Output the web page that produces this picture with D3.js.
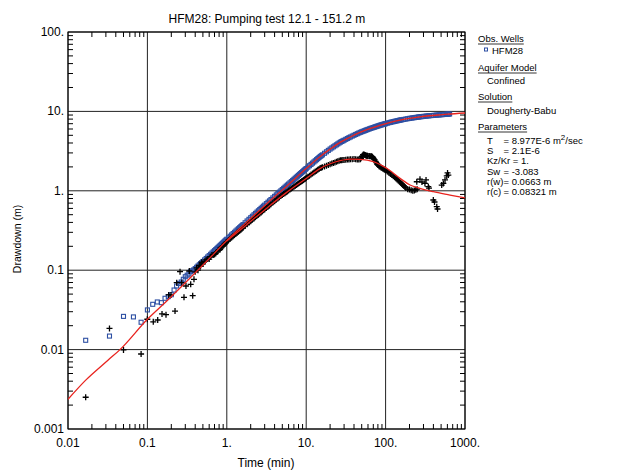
<!DOCTYPE html>
<html>
<head>
<meta charset="utf-8">
<script src="https://cdn.jsdelivr.net/npm/d3@7"></script>
<style>
  body { margin: 0; background: #fff; }
  text { font-family: "Liberation Sans", Arial, sans-serif; fill: #000; }
</style>
</head>
<body>
<div id="chart"></div>
<script>
// observed drawdown, HFM28 (time in min, drawdown in m)
const drawdownObs = [
  [0.0167,0.0131],[0.0333,0.0148],[0.05,0.0262],[0.0667,0.0258],[0.0833,0.0221],[0.1,0.0316],
  [0.1167,0.0372],[0.1333,0.0398],[0.15,0.039],[0.1667,0.0443],[0.1833,0.0465],[0.2,0.0491],
  [0.2167,0.0563],[0.2333,0.0632],[0.25,0.068],[0.2667,0.071],[0.2833,0.0768],[0.3,0.0828],
  [0.3167,0.0865],[0.3333,0.0895],[0.35,0.0957],[0.3667,0.0985],[0.3833,0.101],[0.4,0.1047],
  [0.4167,0.1089],[0.4333,0.1129],[0.45,0.1169],[0.4667,0.1208],[0.4833,0.1248],[0.5,0.1288],
  [0.55,0.1406],[0.6,0.1527],[0.65,0.1644],[0.7,0.1762],[0.75,0.1879],[0.8,0.1995],[0.85,0.2109],
  [0.9,0.2223],[0.95,0.2342],[1,0.2455],[1.1,0.2675],[1.2,0.2891],[1.3,0.311],[1.4,0.3326],
  [1.5,0.3536],[1.6,0.375],[1.8,0.4169],[2,0.458],[2.2,0.4989],[2.4,0.5395],[2.6,0.58],[2.8,0.62],
  [3,0.66],[3.3,0.718],[3.6,0.7754],[4,0.851],[4.4,0.9256],[4.8,0.9993],[5.2,1.072],[5.6,1.145],
  [6,1.216],[6.5,1.305],[7,1.393],[7.5,1.481],[8,1.567],[8.5,1.653],[9,1.738],[9.5,1.822],[10,1.905],
  [11,2.069],[12,2.23],[13,2.389],[14,2.547],[15,2.702],[16,2.836],[18,3.099],[20,3.355],[22,3.578],
  [24,3.794],[26,4.006],[28,4.18],[30,4.334],[33,4.556],[36,4.764],[40,5.005],[44,5.235],[48,5.447],
  [52,5.618],[56,5.781],[60,5.937],[65,6.112],[70,6.266],[75,6.412],[80,6.551],[85,6.685],[90,6.797],
  [95,6.903],[100,7.006],[110,7.202],[120,7.357],[130,7.492],[140,7.621],[150,7.743],[160,7.839],
  [180,8.012],[200,8.168],[220,8.286],[240,8.395],[260,8.495],[280,8.585],[300,8.65],[330,8.742],
  [360,8.825],[400,8.906],[440,8.982],[480,9.052],[520,9.113],[560,9.17],[600,9.222],[640,9.27],
  [0.525,0.1349],[0.575,0.1469],[0.625,0.1585],[0.675,0.1702],[0.725,0.182],[0.775,0.1936],
  [0.825,0.2051],[0.875,0.2168],[0.925,0.2283],[0.975,0.2399],[1.05,0.2565],[1.15,0.2784],
  [1.25,0.2999],[1.35,0.3216],[1.45,0.3429],[1.55,0.3641],[1.7,0.3957],[1.9,0.4374],[2.1,0.4786],
  [2.3,0.5194],[2.5,0.56],[2.7,0.6003],[2.9,0.64],[3.15,0.6896],[3.45,0.7467],[3.8,0.8133],
  [4.2,0.8882],[4.6,0.9625],[5,1.036],[5.4,1.108],[5.8,1.18],[6.25,1.26],[6.75,1.349],[7.25,1.437],
  [7.75,1.524],[8.25,1.61],[8.75,1.696],[9.25,1.78],[9.75,1.864],[10.5,1.988],[11.5,2.149],
  [12.5,2.31],[13.5,2.468],[14.5,2.625],[15.5,2.769],[17,2.969],[19,3.228],[21,3.467],[23,3.687],
  [25,3.899],[27,4.102],[29,4.257],[31.5,4.446],[34.5,4.663],[38,4.887],[42,5.121],[46,5.344],
  [50,5.534],[54,5.7],[58,5.86],[62.5,6.03],[67.5,6.191],[72.5,6.34],[77.5,6.482],[82.5,6.619],
  [87.5,6.742],[92.5,6.85],[97.5,6.956],[105,7.106],[115,7.285],[125,7.424],[135,7.557],[145,7.682],
  [155,7.793],[170,7.927],[190,8.093],[210,8.228],[230,8.341],[250,8.446],[270,8.543],[290,8.615],
  [315,8.695],[345,8.783],[380,8.865],[420,8.944],[460,9.018],[500,9.083],[540,9.141],[580,9.197],
  [620,9.247]
];

// drawdown derivative (time in min, m)
const derivativeObs = [
  [0.0167,0.00251],[0.0333,0.0185],[0.05,0.0099],[0.0833,0.0088],[0.0998,0.0241],[0.1186,0.0224],
  [0.1348,0.0236],[0.1528,0.0281],[0.1715,0.0275],[0.1854,0.0488],[0.1982,0.0488],[0.2228,0.0306],
  [0.234,0.0697],[0.2576,0.0958],[0.2705,0.0697],[0.289,0.0456],[0.306,0.0632],[0.337,0.0977],
  [0.351,0.0664],[0.372,0.0478],[0.386,0.0767],
  [0.4,0.0955],[0.4167,0.107],[0.4333,0.1],[0.45,0.115],[0.4667,0.112],[0.4833,0.126],[0.5,0.12],
  [0.55,0.135],[0.6,0.138],[0.65,0.155],[0.7,0.158],[0.75,0.17],[0.8,0.182],[0.85,0.191],[0.9,0.204],
  [0.95,0.214],[1,0.229],[1.1,0.248],[1.2,0.268],[1.3,0.286],[1.4,0.305],[1.5,0.324],[1.6,0.342],
  [1.8,0.378],[2,0.414],[2.2,0.449],[2.4,0.484],[2.6,0.518],[2.8,0.551],[3,0.583],[3.3,0.631],
  [3.6,0.678],[4,0.74],[4.4,0.801],[4.8,0.859],[5.2,0.91],[5.6,0.959],[6,1.007],[6.5,1.066],
  [7,1.122],[7.5,1.18],[8,1.236],[8.5,1.288],[9,1.343],[9.5,1.396],[10,1.449],[11,1.549],[12,1.648],
  [13,1.746],[14,1.841],[15,1.932],[16,1.982],[18,2.075],[20,2.158],[22,2.244],[24,2.317],[26,2.393],
  [28,2.427],[30,2.443],[33,2.472],[36,2.489],[40,2.506],[44,2.483],[48,2.495],[50,2.69],[52,2.851],
  [54,2.844],[56,2.799],[58,2.754],[60,2.742],[62,2.735],[65,2.729],[68,2.692],[70,2.57],[73,2.449],
  [75,2.344],[78,2.188],[80,2.113],[85,2.005],[90,1.936],[95,1.871],[100,1.815],[110,1.69],[120,1.578],
  [130,1.482],[140,1.393],[150,1.3],[160,1.222],[170,1.151],[180,1.086],[190,1.049],[200,1.035],
  [210,1.019],[220,1.005],[230,1.012],[240,1.028],[250,1.047],
  [0.525,0.129],[0.575,0.138],[0.625,0.148],[0.675,0.155],[0.725,0.162],[0.775,0.178],[0.825,0.182],
  [0.875,0.2],[0.925,0.209],[0.975,0.221],[1.05,0.2387],[1.15,0.2582],[1.25,0.2773],[1.35,0.296],
  [1.45,0.3147],[1.55,0.3331],[1.7,0.3603],[1.9,0.3963],[2.1,0.4317],[2.3,0.4665],[2.5,0.5009],
  [2.7,0.5345],[2.9,0.5673],[3.15,0.6075],[3.45,0.655],[3.8,0.7097],[4.2,0.7712],[4.6,0.8316],
  [5,0.8843],[5.4,0.9339],[5.8,0.9824],[6.25,1.036],[6.75,1.094],[7.25,1.151],[7.75,1.207],
  [8.25,1.262],[8.75,1.316],[9.25,1.369],[9.75,1.422],[10.5,1.5],[11.5,1.6],[12.5,1.698],[13.5,1.794],
  [14.5,1.888],[15.5,1.956],[17,2.027],[19,2.117],[21,2.201],[23,2.28],[25,2.356],[27,2.418],
  [29,2.435],[31.5,2.456],[34.5,2.478],[38,2.502],[42,2.495],[46,2.472],[49,2.57],[51,2.754],
  [53,2.871],[55,2.818],[57,2.773],[59,2.754],[63,2.729],[66.5,2.723],[69,2.63],[71.5,2.5],
  [76.5,2.27],[79,2.153],[82.5,2.042],[87.5,1.968],[92.5,1.901],[97.5,1.841],[105,1.754],[115,1.633],
  [125,1.528],[135,1.439],[145,1.346],[155,1.259],[165,1.183],[175,1.117],
  [247,1.3],[271,1.4],[287,1.29],[313,1.24],[323,1.37],[345,1.13],[352,1.08],[399,0.766],[413,0.723],
  [441,0.631],[451,0.59],[509,1.18],[534,1.24],[560,1.37],[589,1.54],[603,1.68],[617,1.58]
];

// Dougherty-Babu type curves
const fitDrawdown = [
  [0.01,0.00237],[0.0166,0.0041],[0.0316,0.0073],[0.0452,0.01],[0.1,0.0241],[0.178,0.0415],
  [0.316,0.0731],[0.562,0.1306],[1,0.2366],[1.78,0.403],[3.16,0.684],[5.62,1.135],[10,1.905],
  [14.9,2.69],[20,3.35],[26.7,4.07],[35.5,4.73],[47.6,5.43],[63.1,6.05],[84.9,6.68],[112,7.24],
  [152,7.76],[200,8.17],[271,8.55],[355,8.81],[484,9.06],[603,9.23],[1000,9.55]
];
const fitDerivative = [
  [1,0.234],[1.78,0.374],[3.16,0.6],[5.62,0.948],[10,1.43],[14.9,1.905],[20,2.19],[26.7,2.4],
  [35.5,2.51],[47.6,2.49],[70,2.33],[103,1.92],[152,1.435],[203,1.183],[271,1.074],[399,0.975],
  [647,0.885],[1000,0.813]
];

const xMajor = [0.01, 0.1, 1, 10, 100, 1000];
const xLabels = ["0.01", "0.1", "1.", "10.", "100.", "1000."];
const yMajor = [0.001, 0.01, 0.1, 1, 10, 100];
const yLabels = ["0.001", "0.01", "0.1", "1.", "10.", "100."];

const legendParams = [
  ["T", "= 8.977E-6 m", "2", "/sec"],
  ["S", "= 2.1E-6"],
  ["Kz/Kr = 1."],
  ["Sw", "= -3.083"],
  ["r(w)", "= 0.0663 m"],
  ["r(c)", "= 0.08321 m"]
];

const width = 627, height = 473;
const plot = {left: 68, right: 465, top: 32, bottom: 429};

const svg = d3.select("#chart").append("svg")
  .attr("width", width)
  .attr("height", height)
  .attr("viewBox", [0, 0, width, height]);

const x = d3.scaleLog().domain([0.01, 1000]).range([plot.left, plot.right]);
const y = d3.scaleLog().domain([0.001, 100]).range([plot.bottom, plot.top]);

// title
svg.append("text")
  .attr("x", 267).attr("y", 23)
  .attr("text-anchor", "middle")
  .attr("font-size", 12)
  .text("HFM28: Pumping test 12.1 - 151.2 m");

// grid at the decades
svg.append("g")
  .selectAll("line")
  .data(xMajor)
  .join("line")
    .attr("x1", d => x(d)).attr("x2", d => x(d))
    .attr("y1", plot.top).attr("y2", plot.bottom)
    .attr("stroke", "#222").attr("stroke-width", 1);

svg.append("g")
  .selectAll("line")
  .data(yMajor)
  .join("line")
    .attr("x1", plot.left).attr("x2", plot.right)
    .attr("y1", d => y(d)).attr("y2", d => y(d))
    .attr("stroke", "#222").attr("stroke-width", 1);

// minor ticks pointing inward on all four sides
const xMinor = x.ticks().filter(d => !xMajor.some(m => Math.abs(m - d) / m < 1e-6));
const yMinor = y.ticks().filter(d => !yMajor.some(m => Math.abs(m - d) / m < 1e-6));
const tickLen = 5;

const ticks = svg.append("g").attr("stroke", "#000").attr("stroke-width", 1);
ticks.selectAll(".xb").data(xMinor).join("line")
  .attr("class", "xb")
  .attr("x1", d => x(d)).attr("x2", d => x(d))
  .attr("y1", plot.bottom).attr("y2", plot.bottom - tickLen);
ticks.selectAll(".xt").data(xMinor).join("line")
  .attr("class", "xt")
  .attr("x1", d => x(d)).attr("x2", d => x(d))
  .attr("y1", plot.top).attr("y2", plot.top + tickLen);
ticks.selectAll(".yl").data(yMinor).join("line")
  .attr("class", "yl")
  .attr("y1", d => y(d)).attr("y2", d => y(d))
  .attr("x1", plot.left).attr("x2", plot.left + tickLen);
ticks.selectAll(".yr").data(yMinor).join("line")
  .attr("class", "yr")
  .attr("y1", d => y(d)).attr("y2", d => y(d))
  .attr("x1", plot.right).attr("x2", plot.right - tickLen);

// frame
svg.append("rect")
  .attr("x", plot.left).attr("y", plot.top)
  .attr("width", plot.right - plot.left).attr("height", plot.bottom - plot.top)
  .attr("fill", "none").attr("stroke", "#000").attr("stroke-width", 1);

// tick labels
svg.append("g")
  .selectAll("text")
  .data(xMajor)
  .join("text")
    .attr("x", d => x(d)).attr("y", plot.bottom + 18)
    .attr("text-anchor", "middle")
    .attr("font-size", 12)
    .text((d, i) => xLabels[i]);

svg.append("g")
  .selectAll("text")
  .data(yMajor)
  .join("text")
    .attr("x", plot.left - 4).attr("y", d => y(d) + 4)
    .attr("text-anchor", "end")
    .attr("font-size", 12)
    .text((d, i) => yLabels[i]);

// axis titles
svg.append("text")
  .attr("x", 266).attr("y", 467)
  .attr("text-anchor", "middle")
  .attr("font-size", 12)
  .text("Time (min)");

svg.append("text")
  .attr("transform", "translate(21,239) rotate(-90)")
  .attr("text-anchor", "middle")
  .attr("font-size", 10.5)
  .text("Drawdown (m)");

// data + curves, clipped to the plot area
svg.append("clipPath").attr("id", "clip")
  .append("rect")
  .attr("x", plot.left).attr("y", plot.top)
  .attr("width", plot.right - plot.left).attr("height", plot.bottom - plot.top);

const layer = svg.append("g").attr("clip-path", "url(#clip)");

layer.append("g")
  .selectAll("rect")
  .data(drawdownObs)
  .join("rect")
    .attr("x", d => x(d[0]) - 2).attr("y", d => y(d[1]) - 2)
    .attr("width", 4).attr("height", 4)
    .attr("fill", "none")
    .attr("stroke", "#2d4fa3").attr("stroke-width", 1.1);

layer.append("g")
  .selectAll("path")
  .data(derivativeObs)
  .join("path")
    .attr("transform", d => `translate(${x(d[0])},${y(d[1])})`)
    .attr("d", "M-3,0H3M0,-3V3")
    .attr("stroke", "#000").attr("stroke-width", 1.3);

const line = d3.line()
  .x(d => x(d[0]))
  .y(d => y(d[1]))
  .curve(d3.curveMonotoneX);

layer.append("path")
  .datum(fitDrawdown)
  .attr("d", line)
  .attr("fill", "none").attr("stroke", "#e8231e").attr("stroke-width", 1.3);

layer.append("path")
  .datum(fitDerivative)
  .attr("d", line)
  .attr("fill", "none").attr("stroke", "#e8231e").attr("stroke-width", 1.3);

// legend
const lg = svg.append("g").attr("font-size", 9.5);
const lx = 478, ix = 487;

function heading(label, yy) {
  const t = lg.append("text").attr("x", lx).attr("y", yy).text(label);
  const w = t.node().getComputedTextLength();
  lg.append("line")
    .attr("x1", lx).attr("x2", lx + w)
    .attr("y1", yy + 2).attr("y2", yy + 2)
    .attr("stroke", "#000").attr("stroke-width", 0.8);
}

heading("Obs. Wells", 42);
lg.append("rect")
  .attr("x", 484.5).attr("y", 48).attr("width", 3).attr("height", 3)
  .attr("fill", "none").attr("stroke", "#2d4fa3").attr("stroke-width", 1);
lg.append("text").attr("x", 492).attr("y", 54).text("HFM28");

heading("Aquifer Model", 71);
lg.append("text").attr("x", ix).attr("y", 84).text("Confined");

heading("Solution", 100);
lg.append("text").attr("x", ix).attr("y", 114).text("Dougherty-Babu");

heading("Parameters", 130);
legendParams.forEach((p, i) => {
  const yy = 144 + i * 10.2;
  lg.append("text").attr("x", ix).attr("y", yy).text(p[0]);
  if (p.length > 1) {
    const t = lg.append("text").attr("x", 503.5).attr("y", yy).text(p[1]);
    if (p.length > 2) {
      t.append("tspan").attr("dy", -4).attr("font-size", 8).text(p[2]);
      t.append("tspan").attr("dy", 4).text(p[3]);
    }
  }
});
</script>
</body>
</html>
